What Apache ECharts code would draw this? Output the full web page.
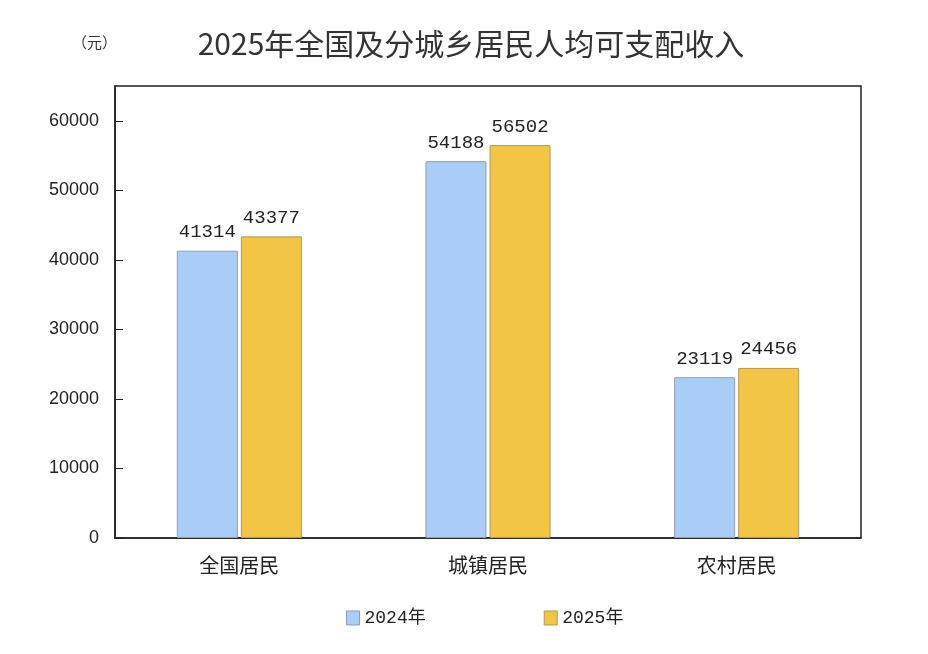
<!DOCTYPE html>
<html>
<head>
<meta charset="utf-8">
<script src="https://cdn.jsdelivr.net/npm/echarts@6/dist/echarts.min.js"></script>
<style>
  html, body { margin: 0; padding: 0; background: #fff; }
  #chart { width: 928px; height: 654px; }
</style>
</head>
<body>
<div id="chart"></div>
<script>
// 数据
const categories = ["全国居民", "城镇居民", "农村居民"];
const seriesNames = ["2024年", "2025年"];
const income2024 = [41314, 54188, 23119];
const income2025 = [43377, 56502, 24456];

const chartDom = document.getElementById("chart");
const myChart = echarts.init(chartDom);

const cjk = '"Noto Sans CJK SC", "Noto Sans", sans-serif';
const mono = '"Liberation Mono", "Noto Sans CJK SC", monospace';

const option = {
  animation: false,
  backgroundColor: "#fff",
  title: {
    text: "2025年全国及分城乡居民人均可支配收入",
    left: 466,
    textAlign: "center",
    top: 24,
    textStyle: { fontFamily: cjk, fontSize: 30, fontWeight: "normal", color: "#333" }
  },
  graphic: [{
    type: "text",
    left: 72,
    top: 35,
    style: { text: "（元）", font: "15px " + cjk, fill: "#333" }
  }],
  legend: {
    top: 604,
    left: 341,
    itemGap: 118,
    itemWidth: 13,
    itemHeight: 14,
    icon: "rect",
    itemStyle: { borderWidth: 1 },
    textStyle: { fontFamily: mono, fontSize: 18, color: "#222" },
    data: seriesNames
  },
  grid: { left: 115, right: 67, top: 86, bottom: 116, show: true, borderColor: "#222", borderWidth: 1.5 },
  xAxis: {
    type: "category",
    data: categories,
    axisLine: { lineStyle: { color: "#222", width: 1.5 } },
    axisTick: { show: false },
    axisLabel: { fontFamily: cjk, fontSize: 20, color: "#222", margin: 17 }
  },
  yAxis: {
    type: "value",
    min: 0,
    max: 65000,
    interval: 10000,
    splitLine: { show: false },
    axisLine: { show: true, lineStyle: { color: "#222", width: 1.5 } },
    axisTick: { show: true, inside: true, length: 8, lineStyle: { color: "#222" } },
    axisLabel: {
      showMaxLabel: false,
      formatter: v => String(v),
      fontFamily: '"Liberation Sans", Arial, sans-serif',
      fontSize: 18,
      color: "#222",
      margin: 16
    }
  },
  series: [
    {
      name: seriesNames[0],
      type: "bar",
      data: income2024,
      barWidth: 61,
      barGap: "5%",
      itemStyle: { color: "#a9cdf7", borderColor: "#8e9fb3", borderWidth: 1 },
      label: { show: true, position: "top", distance: 9, fontFamily: mono, fontSize: 19, color: "#222" }
    },
    {
      name: seriesNames[1],
      type: "bar",
      data: income2025,
      barWidth: 61,
      itemStyle: { color: "#f3c545", borderColor: "#b09a55", borderWidth: 1 },
      label: { show: true, position: "top", distance: 9, fontFamily: mono, fontSize: 19, color: "#222" }
    }
  ]
};

option && myChart.setOption(option);
</script>
</body>
</html>
